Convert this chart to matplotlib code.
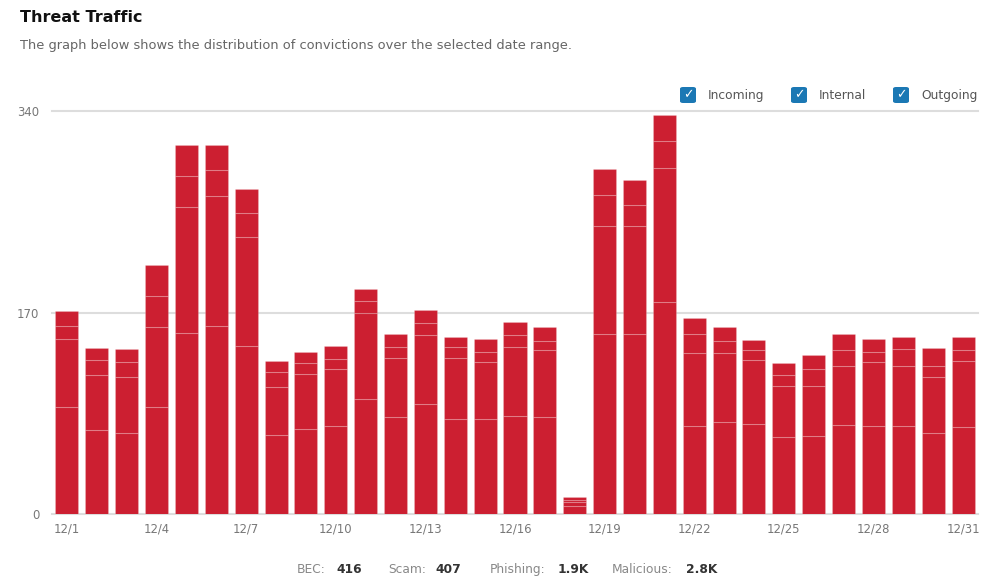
import matplotlib.pyplot as plt
from matplotlib.patches import FancyBboxPatch

plt.rcParams['font.family'] = ['DejaVu Sans']

# Dados: convicções diárias por tipo (empilhadas)
days = [f"12/{d}" for d in range(1, 32)]
malicious = [90, 71, 68, 90, 153, 159, 142, 67, 72, 74, 97, 82, 93, 80, 80, 83,
             82, 7, 152, 152, 179, 74, 78, 76, 65, 66, 75, 74, 74, 68, 73]
phishing = [58, 46, 48, 68, 106, 109, 92, 40, 46, 48, 73, 50, 58, 52, 48, 58,
            56, 3, 91, 91, 113, 62, 58, 54, 43, 42, 50, 54, 51, 48, 56]
scam = [11, 13, 12, 26, 26, 22, 20, 13, 9, 9, 10, 9, 10, 9, 9, 10,
        8, 2, 26, 18, 23, 16, 10, 8, 9, 14, 13, 9, 14, 9, 9]
bec = [12, 10, 11, 26, 26, 21, 20, 9, 10, 11, 10, 11, 11, 8, 11, 11,
       12, 2, 22, 21, 22, 13, 12, 9, 10, 12, 14, 11, 10, 15, 11]
y_ticks = [0, 170, 340]
legend_items = ["Incoming", "Internal", "Outgoing"]
totals = [("BEC:", "416"), ("Scam:", "407"), ("Phishing:", "1.9K"), ("Malicious:", "2.8K")]

red = '#cc1f31'
fig = plt.figure(figsize=(9.98, 5.81), dpi=100)
ax = fig.add_axes([52 / 998, 1 - 514 / 581, 926 / 998, 403 / 581])

x = range(len(days))
bottom = [0] * len(days)
for serie in [malicious, phishing, scam, bec]:
    ax.bar(x, serie, bottom=bottom, width=0.77, color=red,
           edgecolor=(1, 1, 1, 0.18), linewidth=0.8, zorder=3)
    bottom = [b + s for b, s in zip(bottom, serie)]

ax.set_xlim(-0.5, len(days) - 0.5)
ax.set_ylim(0, 340)
ax.set_yticks(y_ticks)
ax.set_yticklabels([str(v) for v in y_ticks])
ax.set_xticks(list(x)[::3])
ax.set_xticklabels(days[::3])
for v in y_ticks:
    ax.axhline(v, color='#dddddd', linewidth=1.5, zorder=1, clip_on=False)
for s in ax.spines.values():
    s.set_visible(False)
ax.tick_params(axis='both', length=0, colors='#777777', labelsize=8.4)
ax.tick_params(axis='y', pad=9)
ax.tick_params(axis='x', pad=6)

# Título e subtítulo
fig.text(20 / 998, 1 - 18 / 581, "Threat Traffic", fontsize=11.5, fontweight='bold',
         color='#111111', va='center')
fig.text(20 / 998, 1 - 46 / 581,
         "The graph below shows the distribution of convictions over the selected date range.",
         fontsize=9.4, color='#666666', va='center')

# Legenda com caixas marcadas
leg_x = [680, 791, 893]
for lx, label in zip(leg_x, legend_items):
    box = FancyBboxPatch((lx / 998, 1 - 103 / 581), 16 / 998, 16 / 581,
                         boxstyle='round,pad=0,rounding_size=0.003',
                         transform=fig.transFigure, facecolor='#1b78b4',
                         edgecolor='none')
    fig.patches.append(box)
    fig.text((lx + 8) / 998, 1 - 95 / 581, "\u2713", fontsize=9, color='white',
             ha='center', va='center')
    fig.text((lx + 28) / 998, 1 - 99 / 581, label, fontsize=8.8, color='#555555',
             va='baseline')

# Totais no rodapé
tot_x = [(297, 336), (388, 435), (490, 558), (612, 686)]
for (lx, vx), (lab, val) in zip(tot_x, totals):
    fig.text(lx / 998, 1 - 573 / 581, lab, fontsize=8.8, color='#888888', va='baseline')
    fig.text(vx / 998, 1 - 573 / 581, val, fontsize=8.8, color='#333333',
             fontweight='bold', va='baseline')

fig.savefig("out.png", dpi=100)
